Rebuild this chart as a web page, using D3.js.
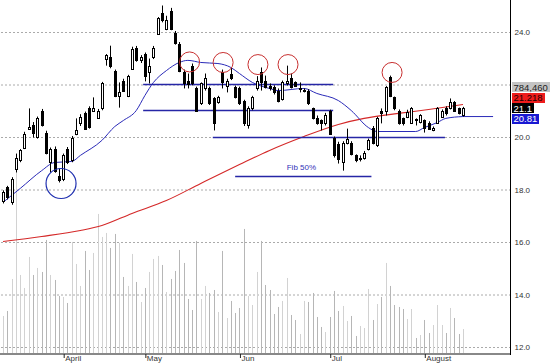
<!DOCTYPE html>
<html>
<head>
<meta charset="utf-8">
<script src="https://cdn.jsdelivr.net/npm/d3@7"></script>
<style>
body { margin: 0; background: #fff; }
svg { display: block; font-family: "Liberation Sans", Arial, sans-serif; }
</style>
</head>
<body>
<svg id="chart" width="550" height="364"></svg>
<script>
// daily bars, mid March -> late August
var opens = [17.56,18.06,17.49,18.78,19.09,19.58,20.30,20.45,19.98,20.99,
  20.15,19.01,19.54,18.48,18.40,19.54,19.09,20.11,20.50,20.88,
  21.07,20.99,20.72,21.07,22.97,23.01,22.51,21.56,22.13,21.56,
  22.59,23.39,22.90,23.16,22.44,23.01,23.92,24.69,24.11,24.80,
  23.96,23.54,22.44,22.10,22.70,21.83,21.26,21.83,21.83,21.45,
  21.30,22.44,21.94,22.40,21.87,21.83,21.37,20.42,21.07,21.83,
  22.44,22.10,21.94,21.87,21.75,21.41,22.02,22.21,22.06,21.80,
  21.72,21.75,21.07,20.72,20.61,20.50,20.99,19.96,19.73,19.01,
  19.77,19.77,19.28,19.13,19.20,19.54,20.34,19.66,20.99,20.99,
  22.25,21.49,20.99,20.69,20.76,20.53,20.65,20.55,20.61,20.53,
  20.23,20.53,20.76,21.10,21.07,21.30,21.07,20.80];
var highs = [17.95,18.12,18.45,19.35,19.52,20.18,21.07,20.55,20.76,21.05,
  20.22,19.58,19.62,18.78,19.35,19.60,20.02,20.69,20.85,20.95,
  21.15,21.49,21.05,22.08,23.14,23.46,22.55,22.06,22.20,22.35,
  23.42,23.45,23.10,23.20,22.97,23.45,24.55,24.99,24.60,24.90,
  24.02,23.60,22.55,22.40,22.78,21.90,22.06,22.40,21.90,21.50,
  21.55,22.55,22.20,22.63,21.94,21.90,21.40,21.15,21.55,22.30,
  22.63,22.32,22.02,21.95,21.83,22.13,22.70,22.40,22.10,22.06,
  21.83,21.80,21.10,20.80,20.65,20.90,21.02,20.00,19.80,19.82,
  20.30,19.82,19.32,19.28,19.45,19.92,20.40,20.75,21.07,21.92,
  22.32,21.52,21.03,20.72,21.02,21.12,20.69,20.85,20.65,20.58,
  20.38,21.12,21.03,21.15,21.45,21.35,21.10,21.13];
var lows = [17.45,17.60,17.40,18.63,19.02,19.52,20.26,19.96,19.92,20.38,
  19.32,18.63,18.62,18.25,18.30,18.95,19.02,20.05,20.40,20.25,
  20.30,20.95,20.68,21.00,22.70,22.60,21.50,21.10,21.70,21.50,
  22.55,22.85,22.80,22.10,22.02,22.95,23.88,24.35,24.05,24.05,
  23.50,22.45,21.83,21.83,21.95,20.95,21.20,21.75,21.20,20.23,
  21.25,21.83,21.68,22.15,21.45,21.20,20.40,20.30,21.00,21.75,
  21.75,21.83,21.75,21.60,21.30,21.37,21.94,21.83,21.90,21.68,
  21.68,21.20,20.65,20.45,20.23,20.42,20.08,19.20,18.97,18.70,
  19.70,19.28,19.02,19.05,19.12,19.47,19.70,19.60,20.50,20.80,
  21.50,21.00,20.45,20.42,20.70,20.48,20.42,20.50,20.15,20.25,
  20.20,20.48,20.72,20.80,21.03,20.95,20.84,20.76];
var closes = [17.87,17.68,18.40,19.20,19.47,20.11,20.36,20.15,20.69,20.42,
  19.39,19.54,18.70,18.36,19.28,19.01,19.96,20.23,20.76,20.30,
  20.35,21.10,20.99,22.02,23.09,22.67,21.56,21.68,21.75,22.29,
  23.35,22.90,23.01,22.32,22.70,23.39,24.50,24.42,24.42,24.11,
  23.58,22.51,22.02,22.00,22.02,20.99,22.02,22.21,21.26,20.50,
  21.49,22.06,22.13,22.21,21.49,21.26,20.50,21.10,21.49,22.13,
  22.06,21.90,21.83,21.68,21.37,22.06,22.13,21.87,21.94,21.85,
  21.78,21.26,20.69,20.53,20.50,20.80,20.11,19.28,19.16,19.77,
  19.92,19.35,19.09,19.20,19.39,19.85,19.77,20.69,20.91,21.87,
  21.56,21.07,20.50,20.53,20.95,21.07,20.61,20.80,20.34,20.30,
  20.34,21.07,20.99,20.88,21.30,20.99,20.88,21.10];
// volume in thousands of shares
var volumes = [1214,1378,2427,5937,2558,2132,3149,2558,2788,2657,
  3706,2558,2394,1870,1837,1640,3641,2919,2198,3346,
  2722,3280,4559,3805,3936,3444,3903,3608,2493,2198,
  3247,2329,1673,2132,2657,3083,3182,2886,2001,2427,
  2690,3378,2952,1771,1410,3674,1771,2198,1968,2066,
  1345,3346,1148,1706,1312,1476,4067,1870,1574,2657,
  3674,2230,2066,1279,1509,1706,2460,1246,1082,623,
  1706,1673,1968,1181,853,689,1181,2034,1378,1542,
  1050,1214,558,886,820,2099,1082,1607,1837,2952,
  2198,1574,1509,1443,1115,1443,492,590,1082,656,
  918,1574,918,656,1476,1148,623,784.46];

var monthLabels = ["April", "May", "Jun", "Jul", "August"];
var monthIdx = [14, 33, 55, 76, 98];
var priceTicks = [12, 14, 16, 18, 20, 22, 24];

// moving averages at these bars
var fastIdx = [0,4,9,12,16,18,23,26,28,31,33,35,38,41,43,46,50,53,55,58,62,64,70,73,78,81,85,87,96,98,101,103,107];
var fastVal = [17.49,18.02,18.70,19.01,19.05,19.28,19.85,20.38,20.61,20.99,21.56,22.06,22.51,22.82,22.90,22.82,22.78,22.63,22.40,22.06,21.83,21.75,21.83,21.64,21.37,20.99,20.34,20.19,20.19,20.34,20.53,20.69,20.76];
var slowIdx = [0,9,18,23,30,38,46,55,62,70,78,84,92,99,107];
var slowVal = [16.00,16.19,16.42,16.61,17.07,17.56,18.21,18.93,19.47,20.00,20.46,20.69,20.88,21.03,21.22];

// drawn support / resistance lines
var levelPrice = [22.0, 21.0, 20.0, 18.5];
var levelFrom = [32.6, 32.6, 48.8, 54];
var levelTo = [76.8, 76.8, 102.8, 85.7];
var fibText = "Fib 50%";

var topRingIdx = [43.4, 51.2, 59.3, 66.3, 90.5];
var topRingPrice = [22.84, 22.82, 22.74, 22.74, 22.44];
var lowRingIdx = [13.5];
var lowRingPrice = [18.21];

var tagValues = [21.218, 21.1, 20.81];
var tagFill = ["#ee1c1c", "#000000", "#1818d2"];
var tagInk = ["#220000", "#ffffff", "#ffffff"];

var svg = d3.select("#chart");
var n = closes.length;
var plotRight = 510;
var x = d3.scaleLinear().domain([0, n - 1]).range([3, 463]);
var y = d3.scaleLinear().domain([12, 24]).range([346.5, 31.5]);
var yVol = d3.scaleLinear().domain([0, 6000]).range([353, 170]);
function px(i) { return Math.round(x(i)); }

svg.append("rect").attr("width", 550).attr("height", 364).attr("fill", "#fff");

// y axis + dotted grid
var yAxis = svg.append("g")
  .attr("transform", "translate(" + (plotRight + 0.5) + ",0.5)")
  .call(d3.axisRight(y).tickValues(priceTicks).tickFormat(d3.format(".1f"))
    .tickSize(-plotRight).tickPadding(4));
yAxis.select(".domain").remove();
yAxis.selectAll(".tick line").attr("stroke", "#555").attr("stroke-dasharray", "1,3");
yAxis.selectAll(".tick text").attr("font-size", 8).attr("fill", "#333")
  .attr("font-family", "Liberation Sans, Arial, sans-serif");

// volume
svg.append("g").selectAll("line").data(volumes).enter().append("line")
  .attr("x1", function(d, i) { return px(i) + 0.5; })
  .attr("x2", function(d, i) { return px(i) + 0.5; })
  .attr("y1", yVol(0))
  .attr("y2", function(d) { return yVol(d); })
  .attr("stroke", function(d, i) { return closes[i] >= opens[i] ? "#d2d2d2" : "#b6b6b6"; });

// moving averages
var maLine = d3.line()
  .x(function(d) { return x(d[0]); })
  .y(function(d) { return y(d[1]); })
  .curve(d3.curveMonotoneX);
svg.append("path").datum(d3.zip(slowIdx, slowVal)).attr("d", maLine)
  .attr("fill", "none").attr("stroke", "#d42828").attr("stroke-width", 1.1);
svg.append("path").datum(d3.zip(fastIdx, fastVal)).attr("d", maLine)
  .attr("fill", "none").attr("stroke", "#2a2ab8").attr("stroke-width", 1);
var lastFast = fastVal[fastVal.length - 1];
svg.append("line")
  .attr("x1", x(fastIdx[fastIdx.length - 1])).attr("x2", x(114))
  .attr("y1", y(lastFast)).attr("y2", y(lastFast))
  .attr("stroke", "#2a2ab8").attr("stroke-width", 1);

// level lines
svg.append("g").selectAll("line").data(levelPrice).enter().append("line")
  .attr("x1", function(d, i) { return x(levelFrom[i]); })
  .attr("x2", function(d, i) { return x(levelTo[i]); })
  .attr("y1", function(d) { return Math.round(y(d)) + 0.5; })
  .attr("y2", function(d) { return Math.round(y(d)) + 0.5; })
  .attr("stroke", "#2626a6").attr("stroke-width", 1.3);
svg.append("text").attr("x", x(66)).attr("y", y(18.72))
  .attr("font-size", 8).attr("fill", "#3232b8").text(fibText);

// candles
var candle = svg.append("g").selectAll("g").data(closes).enter().append("g");
candle.append("line")
  .attr("x1", function(d, i) { return px(i) + 0.5; })
  .attr("x2", function(d, i) { return px(i) + 0.5; })
  .attr("y1", function(d, i) { return y(highs[i]); })
  .attr("y2", function(d, i) { return y(lows[i]); })
  .attr("stroke", "#000");
candle.append("rect")
  .attr("shape-rendering", "crispEdges")
  .each(function(d, i) {
    var up = closes[i] >= opens[i];
    var top = Math.round(y(Math.max(opens[i], closes[i])));
    var h = Math.max(Math.round(y(Math.min(opens[i], closes[i]))) - top, 1);
    var r = d3.select(this);
    if (up) {
      r.attr("x", px(i) - 0.5).attr("y", top + 0.5).attr("width", 2).attr("height", h)
        .attr("fill", "#fff").attr("stroke", "#000");
    } else {
      r.attr("x", px(i) - 1).attr("y", top).attr("width", 3).attr("height", h + 1)
        .attr("fill", "#000");
    }
  });

// rings
svg.append("g").selectAll("circle").data(topRingIdx).enter().append("circle")
  .attr("cx", function(d) { return x(d); })
  .attr("cy", function(d, i) { return y(topRingPrice[i]); })
  .attr("r", 10).attr("fill", "none").attr("stroke", "#c83030");
svg.append("g").selectAll("circle").data(lowRingIdx).enter().append("circle")
  .attr("cx", function(d) { return x(d); })
  .attr("cy", function(d, i) { return y(lowRingPrice[i]); })
  .attr("r", 15).attr("fill", "none").attr("stroke", "#2030b0").attr("stroke-width", 1.2);

// frame
svg.append("line").attr("x1", plotRight + 0.5).attr("x2", plotRight + 0.5)
  .attr("y1", 0).attr("y2", 355).attr("stroke", "#000");
svg.append("line").attr("x1", 0).attr("x2", plotRight)
  .attr("y1", 354).attr("y2", 354).attr("stroke", "#888").attr("stroke-width", 2);

// months
var xAxis = svg.append("g").attr("transform", "translate(0.5,354)")
  .call(d3.axisBottom(x).tickValues(monthIdx)
    .tickFormat(function(d, i) { return monthLabels[i]; }).tickSize(4).tickPadding(0));
xAxis.select(".domain").remove();
xAxis.selectAll(".tick line").attr("stroke", "#222");
xAxis.selectAll(".tick text").attr("text-anchor", "start").attr("x", 1).attr("y", 7).attr("dy", 0)
  .attr("font-size", 8).attr("fill", "#333")
  .attr("font-family", "Liberation Sans, Arial, sans-serif");

// value tags on the right
var tagGap = 10.4;
var mid = d3.mean(tagValues, function(v) { return y(v); }) - 1;
var tags = [{ txt: d3.format(",")(Math.round(volumes[n - 1] * 1000)), fill: "#c4c4c4", ink: "#222", cy: mid - 2 * tagGap }];
tagValues.forEach(function(v, k) {
  tags.push({ txt: String(v), fill: tagFill[k], ink: tagInk[k], cy: mid + (k - 1) * tagGap });
});
tags.forEach(function(t) {
  var g = svg.append("g");
  var tx = g.append("text").attr("x", 513.5).attr("y", t.cy + 3.4)
    .attr("font-size", 9.5).attr("fill", t.ink).text(t.txt);
  var w = tx.node().getComputedTextLength();
  g.insert("rect", "text").attr("x", 512).attr("y", Math.round(t.cy - 5))
    .attr("width", Math.ceil(w) + 3).attr("height", 10).attr("fill", t.fill);
});
</script>
</body>
</html>
